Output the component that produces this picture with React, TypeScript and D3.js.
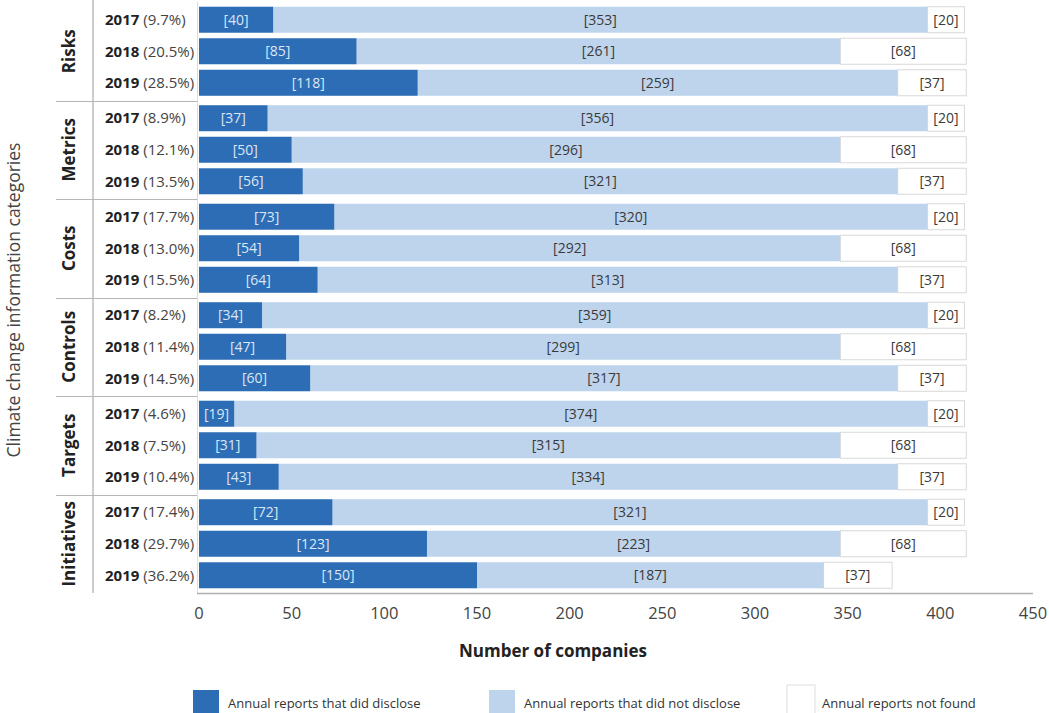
import React from "react";
import * as d3 from "d3";

const categories = ["Risks", "Metrics", "Costs", "Controls", "Targets", "Initiatives"];
const years = ["2017", "2018", "2019"];

// Reports that disclosed the category, per year
const disclosed = [
  [40, 85, 118],
  [37, 50, 56],
  [73, 54, 64],
  [34, 47, 60],
  [19, 31, 43],
  [72, 123, 150],
];

// Reports that did not disclose the category, per year
const notDisclosed = [
  [353, 261, 259],
  [356, 296, 321],
  [320, 292, 313],
  [359, 299, 317],
  [374, 315, 334],
  [321, 223, 187],
];

// Reports not found, per year (same for every category)
const notFound = [20, 68, 37];

const shares = [
  ["9.7%", "20.5%", "28.5%"],
  ["8.9%", "12.1%", "13.5%"],
  ["17.7%", "13.0%", "15.5%"],
  ["8.2%", "11.4%", "14.5%"],
  ["4.6%", "7.5%", "10.4%"],
  ["17.4%", "29.7%", "36.2%"],
];

const xTicks = [0, 50, 100, 150, 200, 250, 300, 350, 400, 450];

const legendItems = [
  "Annual reports that did disclose",
  "Annual reports that did not disclose",
  "Annual reports not found",
];

const W = 1049;
const H = 713;
const FONT = "'Open Sans', 'DejaVu Sans', sans-serif";
const DARK = "#2d6db5";
const LIGHT = "#bdd4ec";
const TEXT = "#3a3a3a";

export default function App() {
  const x = d3.scaleLinear().domain([0, 450]).range([199, 1033]);
  const yGroup = d3.scaleBand<string>().domain(categories).range([2, 593]).padding(0);
  const yYear = d3
    .scaleBand<string>()
    .domain(years)
    .range([0, yGroup.bandwidth()])
    .paddingInner(0.175)
    .paddingOuter(0.15);
  const bh = yYear.bandwidth();

  const rows: any[] = [];
  categories.forEach((cat, ci) => {
    years.forEach((yr, yi) => {
      const a = disclosed[ci][yi];
      const b = notDisclosed[ci][yi];
      const c = notFound[yi];
      const y0 = (yGroup(cat) as number) + (yYear(yr) as number);
      rows.push({ cat, ci, yr, yi, a, b, c, y0 });
    });
  });

  const legendX = [193, 489, 787];

  return (
    <svg
      width={W}
      height={H}
      style={{ position: "absolute", left: 0, top: 0, background: "#fff" }}
      fontFamily={FONT}
    >
      <rect x={0} y={0} width={W} height={H} fill="#fff" />

      {/* frame of the category / year columns */}
      <line x1={93} x2={93} y1={0} y2={593} stroke="#9a9a9a" strokeWidth={1} />
      <line x1={197.5} x2={197.5} y1={2} y2={593} stroke="#dddddd" strokeWidth={1} />
      {categories.slice(1).map((cat) => (
        <line
          key={"sep" + cat}
          x1={56}
          x2={197}
          y1={Math.round(yGroup(cat) as number) + 0.5}
          y2={Math.round(yGroup(cat) as number) + 0.5}
          stroke="#b5b5b5"
          strokeWidth={1}
        />
      ))}

      {/* bars */}
      {rows.map((r) => {
        const xa0 = x(0);
        const xa1 = x(r.a);
        const xb1 = x(r.a + r.b);
        const xc1 = x(r.a + r.b + r.c);
        const cy = r.y0 + bh / 2;
        return (
          <g key={r.cat + r.yr}>
            <rect x={xb1} y={r.y0} width={xc1 - xb1} height={bh} fill="#fff" stroke="#d8d8d8" strokeWidth={1} />
            <rect x={xa1} y={r.y0} width={xb1 - xa1} height={bh} fill={LIGHT} />
            <rect x={xa0} y={r.y0} width={xa1 - xa0} height={bh} fill={DARK} />
            <text x={(xa0 + xa1) / 2} y={cy} dy="0.35em" textAnchor="middle" fontSize={14} fill="#dbe7f5">
              [{r.a}]
            </text>
            <text x={(xa1 + xb1) / 2} y={cy} dy="0.35em" textAnchor="middle" fontSize={14} fill={TEXT}>
              [{r.b}]
            </text>
            <text x={(xb1 + xc1) / 2} y={cy} dy="0.35em" textAnchor="middle" fontSize={14} fill={TEXT}>
              [{r.c}]
            </text>
            <text x={105} y={cy} dy="0.35em" fontSize={15} fill="#222">
              <tspan fontWeight="bold">{r.yr}</tspan>
              <tspan fill="#444"> ({shares[r.ci][r.yi]})</tspan>
            </text>
          </g>
        );
      })}

      {/* category labels */}
      {categories.map((cat) => {
        const cy = (yGroup(cat) as number) + yGroup.bandwidth() / 2;
        return (
          <text
            key={"lab" + cat}
            transform={`translate(75,${cy}) rotate(-90)`}
            textAnchor="middle"
            fontSize={17}
            fontWeight="bold"
            fill="#222"
          >
            {cat}
          </text>
        );
      })}

      {/* y axis title */}
      <text
        transform={`translate(20,300) rotate(-90)`}
        textAnchor="middle"
        fontSize={17.5}
        fill="#444"
      >
        Climate change information categories
      </text>

      {/* x axis */}
      <line x1={197} x2={1033} y1={593.5} y2={593.5} stroke="#b0b0b0" strokeWidth={1.5} />
      {xTicks.map((t) => (
        <text key={"t" + t} x={x(t)} y={619} textAnchor="middle" fontSize={16.5} fill="#444">
          {t}
        </text>
      ))}
      <text x={553} y={657} textAnchor="middle" fontSize={17} fontWeight="bold" fill="#222">
        Number of companies
      </text>

      {/* legend */}
      {legendItems.map((label, i) => (
        <g key={"lg" + i}>
          <rect
            x={legendX[i]}
            y={i === 2 ? 685 : 690}
            width={i === 2 ? 28 : 26}
            height={30}
            fill={i === 0 ? DARK : i === 1 ? LIGHT : "#fff"}
            stroke={i === 2 ? "#dddddd" : "none"}
          />
          <text x={legendX[i] + 35} y={708} fontSize={13} fill="#333">
            {label}
          </text>
        </g>
      ))}
    </svg>
  );
}
